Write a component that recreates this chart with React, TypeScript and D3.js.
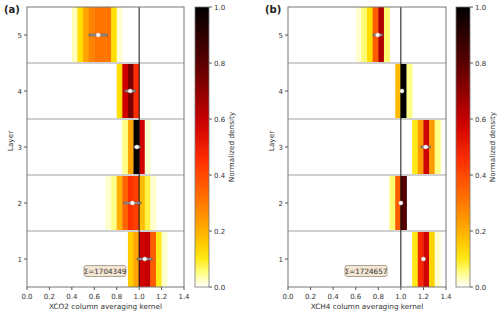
import React from "react";
import * as d3 from "d3";

// layers 1..5, histogram bins of width 0.05 starting at binStart
const layers = [1, 2, 3, 4, 5];
const binWidth = 0.05;

const xco2BinStart = [0.9, 0.7, 0.85, 0.8, 0.4];
const xco2Density = [
  [0.15, 0.22, 0.58, 0.6, 0.36, 0.1, 0.02],
  [0.02, 0.05, 0.2, 0.34, 0.45, 0.42, 0.18, 0.08, 0.02],
  [0.05, 0.22, 1.0, 0.58, 0.02],
  [0.12, 0.58, 0.74, 0.46],
  [0.03, 0.12, 0.22, 0.28, 0.31, 0.31, 0.31, 0.12, 0.02],
];
const xco2Mean = [1.05, 0.94, 0.98, 0.92, 0.635];
const xco2Err = [0.07, 0.08, 0.035, 0.05, 0.085];

const xch4BinStart = [1.1, 0.9, 1.1, 0.95, 0.6];
const xch4Density = [
  [0.1, 0.47, 0.58, 0.14, 0.02],
  [0.06, 0.36, 0.82],
  [0.1, 0.24, 0.58, 0.24, 0.05],
  [0.18, 1.0, 0.05],
  [0.02, 0.06, 0.12, 0.36, 0.64, 0.06],
];
const xch4Mean = [1.2, 1.0, 1.22, 1.01, 0.795];
const xch4Err = [0.02, 0.015, 0.045, 0.01, 0.045];

const xTicks = [0, 0.2, 0.4, 0.6, 0.8, 1.0, 1.2, 1.4];
const cbTicks = [0, 0.2, 0.4, 0.6, 0.8, 1.0];

const cmap = d3
  .scaleLinear<string>()
  .domain([0, 0.05, 0.11, 0.22, 0.32, 0.45, 0.58, 0.78, 1.0])
  .range(["#ffffff", "#ffff88", "#ffe400", "#ffa400", "#ff7000", "#ff3000", "#d00000", "#640000", "#000000"])
  .clamp(true);

const font = "DejaVu Sans, sans-serif";
const top = 7;
const bottom = 287;
const tickFs = 7;

type PanelProps = {
  label: string;
  xlabel: string;
  left: number;
  right: number;
  cbLeft: number;
  binStart: number[];
  density: number[][];
  mean: number[];
  err: number[];
  sigma: string;
  sigmaX: number;
  gid: string;
};

function Panel(p: PanelProps) {
  const x = d3.scaleLinear().domain([0, 1.4]).range([p.left, p.right]);
  const y = d3.scaleLinear().domain([0.5, 5.5]).range([bottom, top]);
  const cb = d3.scaleLinear().domain([0, 1]).range([bottom, top]);
  const cbW = 14;
  const stops = d3.range(0, 1.0001, 0.05);
  return (
    <g fontFamily={font}>
      <defs>
        <linearGradient id={p.gid} x1="0" y1="1" x2="0" y2="0">
          {stops.map((s) => (
            <stop key={s} offset={s} stopColor={cmap(s)} />
          ))}
        </linearGradient>
      </defs>
      {/* heatmap cells */}
      {layers.map((l, i) =>
        p.density[i].map((d, j) => {
          const x0 = p.binStart[i] + j * binWidth;
          return (
            <rect
              key={`${l}-${j}`}
              x={x(x0)}
              y={y(l + 0.5)}
              width={x(x0 + binWidth) - x(x0) + 0.4}
              height={y(l - 0.5) - y(l + 0.5)}
              fill={cmap(d)}
            />
          );
        })
      )}
      {/* layer separators */}
      {[1.5, 2.5, 3.5, 4.5].map((v) => (
        <line key={v} x1={p.left} x2={p.right} y1={y(v)} y2={y(v)} stroke="#d0d0d0" strokeWidth={2} />
      ))}
      <line x1={x(1)} x2={x(1)} y1={top} y2={bottom} stroke="#111" strokeWidth={1} />
      {/* error bars */}
      {layers.map((l, i) => (
        <g key={l}>
          <line
            x1={x(p.mean[i] - p.err[i])}
            x2={x(p.mean[i] + p.err[i])}
            y1={y(l)}
            y2={y(l)}
            stroke="#606060"
            strokeWidth={2.6}
          />
          <line
            x1={x(p.mean[i] - p.err[i]) + 1}
            x2={x(p.mean[i] + p.err[i]) - 1}
            y1={y(l)}
            y2={y(l)}
            stroke="#a0a0a0"
            strokeWidth={1.2}
          />
          <circle cx={x(p.mean[i])} cy={y(l)} r={2.1} fill="#fff" stroke="#ccc" strokeWidth={0.4} />
        </g>
      ))}
      <rect x={p.left} y={top} width={p.right - p.left} height={bottom - top} fill="none" stroke="#777" strokeWidth={1} />
      {/* x axis */}
      {xTicks.map((t) => (
        <g key={t}>
          <line x1={x(t)} x2={x(t)} y1={bottom} y2={bottom + 3} stroke="#555" />
          <text x={x(t)} y={bottom + 11.5} fontSize={tickFs} fill="#333" textAnchor="middle">
            {t.toFixed(1)}
          </text>
        </g>
      ))}
      <text x={(p.left + p.right) / 2} y={bottom + 21.5} fontSize={7.3} fill="#333" textAnchor="middle">
        {p.xlabel}
      </text>
      {/* y axis */}
      {layers.map((l) => (
        <g key={l}>
          <line x1={p.left - 3} x2={p.left} y1={y(l)} y2={y(l)} stroke="#555" />
          <text x={p.left - 5} y={y(l) + 2.5} fontSize={tickFs} fill="#333" textAnchor="end">
            {l}
          </text>
        </g>
      ))}
      <text
        transform={`translate(${p.left - 14},${(top + bottom) / 2 - 6}) rotate(-90)`}
        fontSize={7.3}
        fill="#333"
        textAnchor="middle"
      >
        Layer
      </text>
      <text x={p.left - 23} y={13} fontSize={10} fontWeight="bold" fill="#222">
        {p.label}
      </text>
      {/* sigma box */}
      <g>
        <rect x={p.sigmaX - 21} y={265.5} width={42} height={11} rx={2} fill="#f3e6d3" stroke="#9a8f80" strokeWidth={0.8} />
        <text x={p.sigmaX} y={274} fontSize={7.2} fill="#333" textAnchor="middle">
          {p.sigma}
        </text>
      </g>
      {/* colorbar */}
      <rect x={p.cbLeft} y={top} width={cbW} height={bottom - top} fill={`url(#${p.gid})`} stroke="#777" strokeWidth={0.8} />
      {cbTicks.map((t) => (
        <g key={t}>
          <line x1={p.cbLeft + cbW} x2={p.cbLeft + cbW + 3} y1={cb(t)} y2={cb(t)} stroke="#555" />
          <text x={p.cbLeft + cbW + 5} y={cb(t) + 2.5} fontSize={tickFs} fill="#333">
            {t.toFixed(1)}
          </text>
        </g>
      ))}
      <text
        transform={`translate(${p.cbLeft + cbW + 25},${(top + bottom) / 2}) rotate(-90)`}
        fontSize={7.3}
        fill="#333"
        textAnchor="middle"
      >
        Normalized density
      </text>
    </g>
  );
}

export default function App() {
  return (
    <svg width={500} height={315} style={{ position: "absolute", left: 0, top: 0, background: "#fff" }}>
      <rect width={500} height={315} fill="#fff" />
      <Panel
        label="(a)"
        xlabel="XCO2 column averaging kernel"
        left={27}
        right={184}
        cbLeft={195}
        binStart={xco2BinStart}
        density={xco2Density}
        mean={xco2Mean}
        err={xco2Err}
        sigma="Σ=1704349"
        sigmaX={105}
        gid="cbA"
      />
      <Panel
        label="(b)"
        xlabel="XCH4 column averaging kernel"
        left={288}
        right={446}
        cbLeft={456}
        binStart={xch4BinStart}
        density={xch4Density}
        mean={xch4Mean}
        err={xch4Err}
        sigma="Σ=1724657"
        sigmaX={366}
        gid="cbB"
      />
    </svg>
  );
}
